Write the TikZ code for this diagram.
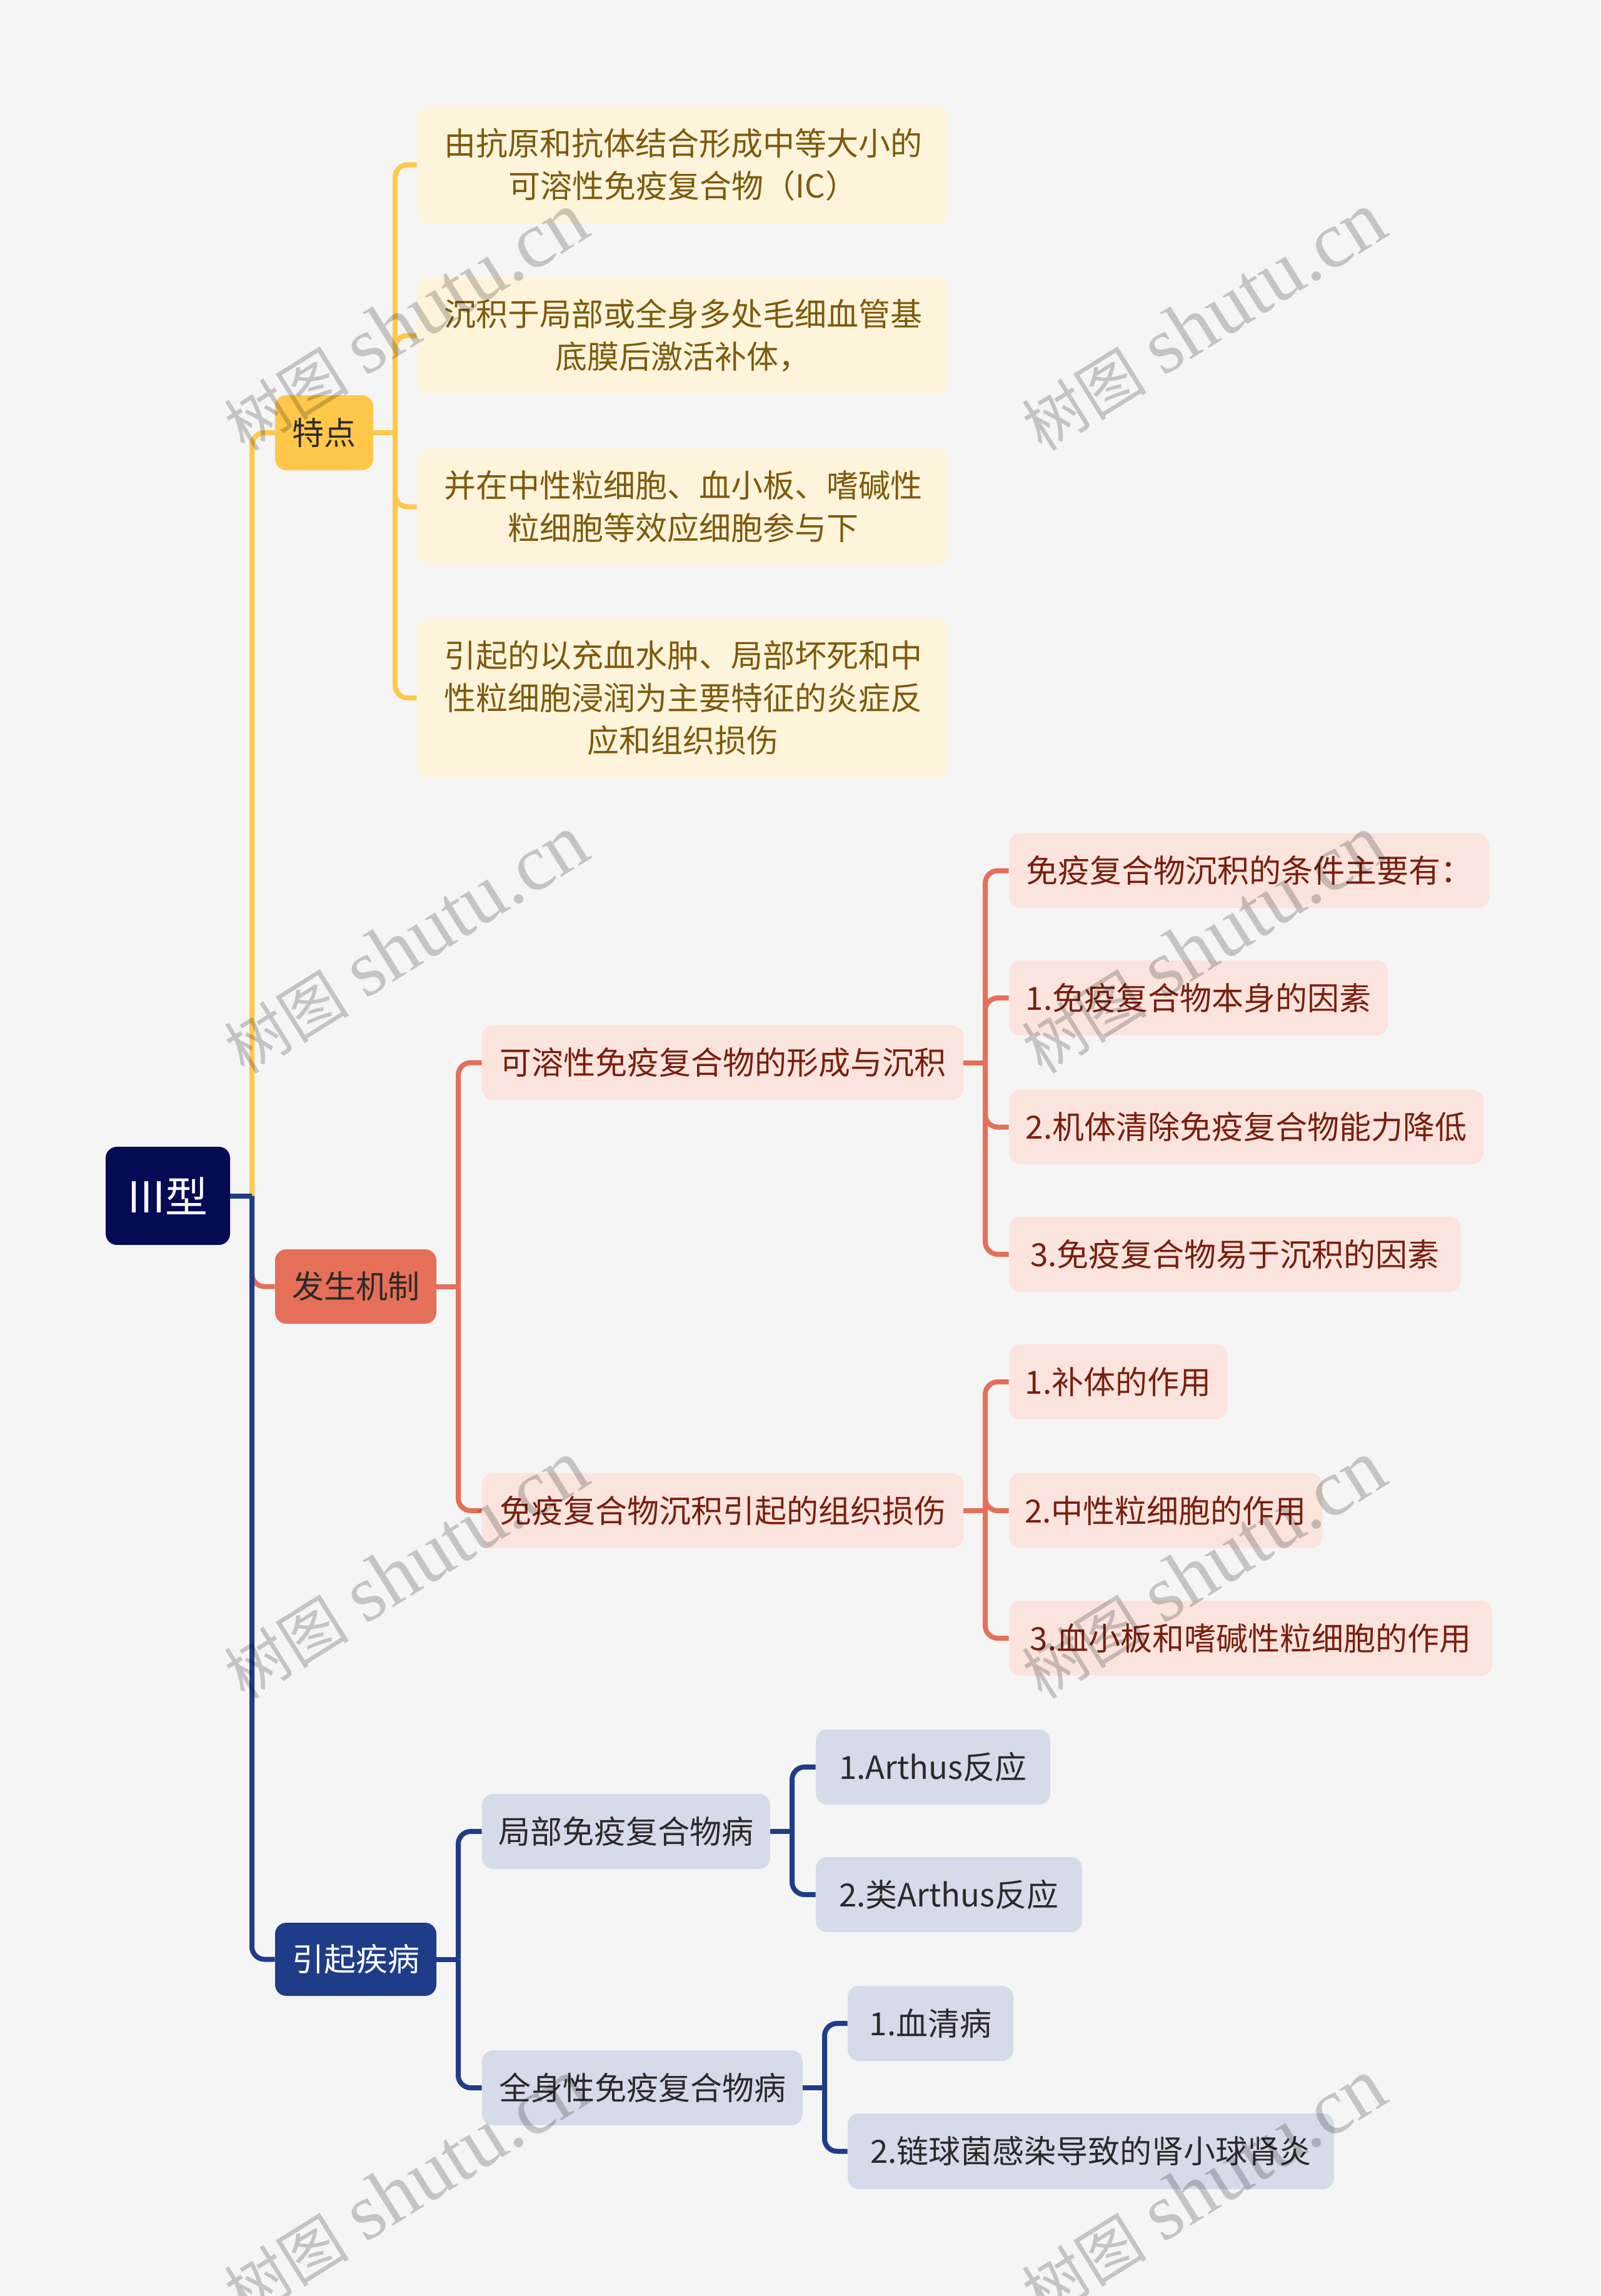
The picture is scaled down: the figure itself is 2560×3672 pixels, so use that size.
\documentclass[tikz,border=0pt]{standalone}
\usepackage{fontspec}
\setmainfont{Noto Sans CJK SC}
\newfontfamily\wmserif{Liberation Serif}
\newfontfamily\wmcjk{Noto Sans CJK SC}
\definecolor{bgc}{HTML}{F5F5F5}
\definecolor{rootc}{HTML}{060B55}
\definecolor{ylw}{HTML}{FFC84B}
\definecolor{ylwl}{HTML}{FEF4DC}
\definecolor{ylwt}{HTML}{7E5A0A}
\definecolor{redc}{HTML}{E56F58}
\definecolor{redl}{HTML}{FBE4DE}
\definecolor{redt}{HTML}{7A1E0E}
\definecolor{navc}{HTML}{1F3C88}
\definecolor{navl}{HTML}{D6DBE9}
\definecolor{darkt}{HTML}{2A2A2A}
\begin{document}
\begin{tikzpicture}[x=0.5pt,y=-0.5pt,
  box/.style={rounded corners=9pt, inner sep=0pt, align=center,
    font=\fontsize{25.5pt}{34pt}\selectfont},
  sz/.style 2 args={minimum width=#1*0.5pt, minimum height=#2*0.5pt},
  rootbox/.style={box, fill=rootc, text=white, font=\fontsize{34pt}{36pt}\selectfont},
  ytop/.style={box, fill=ylw, text=darkt},
  yleaf/.style={box, fill=ylwl, text=ylwt},
  rtop/.style={box, fill=redc, text=darkt},
  rleaf/.style={box, fill=redl, text=redt},
  ntop/.style={box, fill=navc, text=white},
  nleaf/.style={box, fill=navl, text=darkt},
  lnY/.style={draw=ylw, line width=4pt, rounded corners=10pt},
  lnR/.style={draw=redc, line width=4pt, rounded corners=10pt},
  lnN/.style={draw=navc, line width=4pt, rounded corners=10pt},
  wm/.style={rotate=32, text=black, opacity=0.2, inner sep=0pt}
]
\fill[bgc] (0,0) rectangle (2560,3672);
\clip (0,0) rectangle (2560,3672);

% nodes
\node[rootbox, sz={199}{157}] (root) at (268.5,1912.5) {III型};

\node[ytop, sz={157}{120}] (tedian) at (518.5,692) {特点};
\node[yleaf, sz={851}{189}] (y1) at (1092.5,263.5) {由抗原和抗体结合形成中等大小的\\可溶性免疫复合物（IC）};
\node[yleaf, sz={851}{187}] (y2) at (1092.5,536.5) {沉积于局部或全身多处毛细血管基\\底膜后激活补体，};
\node[yleaf, sz={851}{187}] (y3) at (1092.5,810.5) {并在中性粒细胞、血小板、嗜碱性\\粒细胞等效应细胞参与下};
\node[yleaf, sz={851}{256}] (y4) at (1092.5,1116) {引起的以充血水肿、局部坏死和中\\性粒细胞浸润为主要特征的炎症反\\应和组织损伤};

\node[rtop, sz={258}{119}] (fasheng) at (569,2057.5) {发生机制};
\node[rleaf, sz={770}{119}] (r1) at (1156,1699.5) {可溶性免疫复合物的形成与沉积};
\node[rleaf, sz={770}{120}] (r2) at (1156,2416) {免疫复合物沉积引起的组织损伤};
\node[rleaf, sz={768}{119}] (r11) at (1998,1392.5) {免疫复合物沉积的条件主要有：};
\node[rleaf, sz={606}{120}] (r12) at (1917,1596) {1.免疫复合物本身的因素};
\node[rleaf, sz={759}{119}] (r13) at (1993.5,1802.5) {2.机体清除免疫复合物能力降低};
\node[rleaf, sz={723}{120}] (r14) at (1975.5,2006) {3.免疫复合物易于沉积的因素};
\node[rleaf, sz={349}{120}] (r21) at (1788.5,2210) {1.补体的作用};
\node[rleaf, sz={501}{120}] (r22) at (1864.5,2416) {2.中性粒细胞的作用};
\node[rleaf, sz={773}{120}] (r23) at (2000.5,2620) {3.血小板和嗜碱性粒细胞的作用};

\node[ntop, sz={258}{117}] (yinqi) at (569,3133.5) {引起疾病};
\node[nleaf, sz={461}{120}] (b1) at (1001.5,2929) {局部免疫复合物病};
\node[nleaf, sz={513}{120}] (b2) at (1027.5,3339) {全身性免疫复合物病};
\node[nleaf, sz={375}{120}] (b11) at (1492.5,2826) {1.Arthus反应};
\node[nleaf, sz={426}{120}] (b12) at (1518,3030) {2.类Arthus反应};
\node[nleaf, sz={265}{120}] (b21) at (1488.5,3236) {1.血清病};
\node[nleaf, sz={778}{121}] (b22) at (1745,3440.5) {2.链球菌感染导致的肾小球肾炎};

% junction coordinates
\coordinate (rj) at (403,1912.5);
\coordinate (tj) at (632,692);
\coordinate (fj) at (733,2057.5);
\coordinate (r1j) at (1576,1699.5);
\coordinate (r2j) at (1576,2416);
\coordinate (qj) at (733,3133.5);
\coordinate (b1j) at (1267,2929);
\coordinate (b2j) at (1319,3339);

% connectors
\draw[lnY] (rj) |- (tedian.west);
\draw[lnR] (rj) |- (fasheng.west);
\draw[lnN] (rj) |- (yinqi.west);
\draw[lnN, rounded corners=0pt] (root.east) -- (rj);

\draw[lnY, rounded corners=0pt] (tedian.east) -- (tj);
\foreach \n in {y1,y2,y3,y4} \draw[lnY] (tj) |- (\n.west);

\draw[lnR, rounded corners=0pt] (fasheng.east) -- (fj);
\foreach \n in {r1,r2} \draw[lnR] (fj) |- (\n.west);
\draw[lnR, rounded corners=0pt] (r1.east) -- (r1j);
\foreach \n in {r11,r12,r13,r14} \draw[lnR] (r1j) |- (\n.west);
\draw[lnR, rounded corners=0pt] (r2.east) -- (r2j);
\foreach \n in {r21,r22,r23} \draw[lnR] (r2j) |- (\n.west);

\draw[lnN, rounded corners=0pt] (yinqi.east) -- (qj);
\foreach \n in {b1,b2} \draw[lnN] (qj) |- (\n.west);
\draw[lnN, rounded corners=0pt] (b1.east) -- (b1j);
\foreach \n in {b11,b12} \draw[lnN] (b1j) |- (\n.west);
\draw[lnN, rounded corners=0pt] (b2.east) -- (b2j);
\foreach \n in {b21,b22} \draw[lnN] (b2j) |- (\n.west);

% watermarks
\foreach \wx/\wy [count=\i] in {649/515,1925/515,649/1511,1925/1511,649/2511,1925/2511,649/3500,1925/3500}
  \node[wm] (wm\i) at (\wx,\wy) {{\wmcjk\fontsize{50pt}{50pt}\selectfont 树图}\hspace{14pt}{\wmserif\fontsize{64pt}{64pt}\selectfont shutu.cn}};
\end{tikzpicture}
\end{document}
